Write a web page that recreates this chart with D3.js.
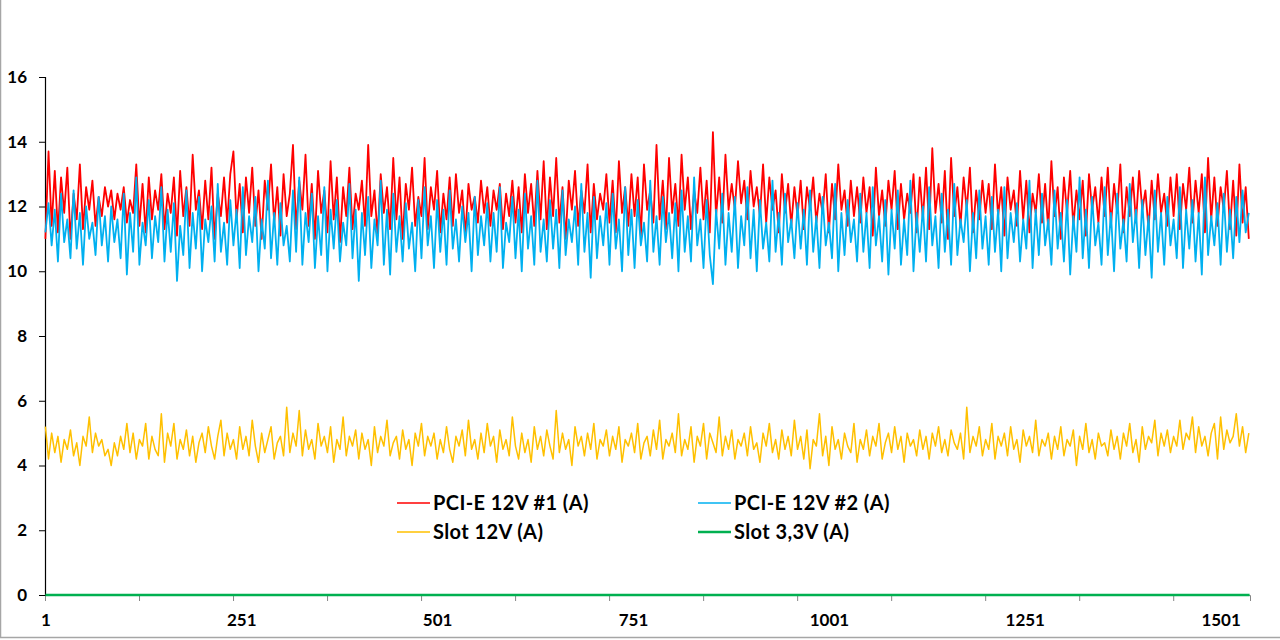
<!DOCTYPE html>
<html>
<head>
<meta charset="utf-8">
<script src="https://cdn.jsdelivr.net/npm/d3@7"></script>
<style>
  body { margin: 0; background: #fff; }
  text { font-family: Lato, "Open Sans", sans-serif; font-weight: bold; fill: #000; }
</style>
</head>
<body>
<div id="chart"></div>
<script>
const nPoints = 1538;
const sampleStep = 4;

const pcie1 = [
  11.0, 13.7, 11.4, 13.1, 11.2, 12.9, 11.8, 13.2, 11.0, 12.4, 11.6, 13.3, 11.3, 12.6, 11.9, 12.8, 11.4, 12.3, 11.7, 12.6,
  12.0, 12.5, 11.6, 12.4, 11.9, 12.6, 11.5, 12.2, 11.8, 13.3, 11.4, 12.7, 11.2, 12.9, 11.6, 12.5, 11.9, 13.0, 11.3, 12.4,
  11.8, 12.9, 11.1, 13.1, 11.7, 12.6, 11.4, 13.6, 11.9, 12.5, 11.3, 12.8, 11.6, 13.2, 11.0, 12.4, 11.7, 12.9, 11.5, 13.0,
  13.7, 11.6, 12.7, 11.2, 12.9, 11.8, 13.2, 11.4, 12.5, 11.0, 12.8, 11.9, 13.3, 11.5, 12.6, 11.1, 13.0, 11.7, 12.4, 13.9,
  11.3, 12.8, 11.9, 13.6, 11.4, 12.7, 11.0, 13.1, 11.8, 12.5, 11.2, 13.4, 11.6, 12.9, 10.9, 12.6, 11.7, 13.2, 11.3, 12.4,
  11.9, 12.8, 11.4, 13.9, 11.7, 12.5, 11.1, 13.0, 11.8, 12.6, 11.3, 13.5, 11.6, 12.9, 11.0, 12.7, 11.9, 13.2, 11.4, 12.3,
  11.7, 13.5, 11.3, 12.6, 11.9, 13.1, 11.2, 12.4, 11.6, 12.9, 11.4, 13.0, 11.8, 12.5, 11.1, 12.7, 11.9, 12.3, 11.5, 12.8,
  11.8, 12.6, 11.4, 12.5, 11.9, 12.7, 11.3, 12.4, 11.7, 12.8, 11.5, 12.6, 11.2, 13.0, 11.8, 12.7, 11.4, 13.1, 11.6, 13.4,
  11.3, 12.9, 11.7, 13.5, 11.5, 12.6, 11.0, 12.8, 11.9, 13.1, 11.4, 12.5, 11.8, 13.3, 11.2, 12.7, 11.6, 12.4, 11.9, 13.0,
  11.5, 12.8, 11.2, 13.4, 11.8, 12.6, 11.4, 13.0, 11.7, 12.9, 11.1, 13.3, 11.9, 12.5, 11.5, 13.9, 11.6, 12.8, 11.3, 13.5,
  11.8, 12.7, 11.4, 13.6, 11.9, 12.9, 11.3, 12.5, 11.8, 13.2, 11.6, 12.8, 11.2, 14.3, 11.7, 12.9, 11.5, 13.6, 11.9, 12.7,
  11.9, 13.4, 12.1, 12.8, 11.6, 13.1, 12.0, 12.6, 11.7, 13.3, 11.5, 12.9, 11.9, 12.5, 11.2, 13.0, 11.8, 12.7, 11.4, 12.6,
  11.7, 12.8, 11.3, 12.6, 11.9, 12.9, 11.5, 12.4, 11.8, 13.0, 11.2, 12.7, 11.6, 13.3, 11.9, 12.5, 11.4, 12.8, 11.7, 12.6,
  11.5, 12.9, 11.8, 12.6, 11.1, 13.2, 11.7, 12.5, 11.4, 12.8, 11.9, 13.1, 11.3, 12.7, 11.6, 12.4, 11.8, 13.0, 11.2, 12.9,
  11.6, 13.2, 11.3, 13.8, 11.8, 12.7, 11.5, 13.1, 11.0, 13.5, 11.7, 12.6, 11.4, 12.9, 11.9, 13.2, 11.2, 12.5, 11.6, 12.8,
  11.8, 12.7, 11.3, 13.3, 11.7, 12.6, 11.1, 12.9, 11.9, 12.5, 11.4, 13.1, 11.6, 12.8, 11.2, 12.4, 11.8, 13.0, 11.5, 12.7,
  11.3, 13.4, 11.7, 12.6, 11.0, 12.9, 11.8, 13.1, 11.4, 12.5, 11.6, 12.8, 11.1, 13.0, 11.9, 12.6, 11.5, 12.9, 11.7, 13.2,
  11.4, 12.7, 11.8, 13.3, 11.2, 12.6, 11.7, 12.9, 11.5, 13.1, 11.9, 12.5, 11.3, 12.8, 11.6, 13.0, 11.8, 12.4, 11.4, 12.9,
  11.7, 13.0, 11.3, 12.7, 11.9, 13.2, 11.5, 12.8, 11.8, 13.0, 11.2, 13.5, 11.6, 12.9, 11.4, 12.6, 11.9, 13.1, 11.3, 12.8,
  11.1, 13.3, 11.5, 12.6, 11.0
];

const pcie2 = [
  11.2, 12.1, 10.8, 11.9, 10.3, 12.4, 10.9, 11.6, 10.4, 12.5, 10.7, 11.8, 10.2, 12.0, 11.0, 11.5, 10.5, 12.3, 10.8, 11.7,
  10.3, 12.0, 10.9, 11.6, 10.4, 12.4, 9.9, 11.8, 10.6, 12.9, 10.2, 11.5, 10.8, 12.2, 10.4, 11.7, 10.9, 12.6, 10.3, 11.9,
  10.6, 12.1, 9.7, 11.4, 10.5, 12.5, 10.1, 11.8, 10.7, 12.3, 10.0, 11.6, 10.9, 12.0, 10.3, 12.7, 10.6, 11.5, 10.2, 12.2,
  10.8, 11.9, 10.1, 12.6, 10.5, 11.7, 10.9, 12.3, 10.0, 11.6, 10.7, 12.8, 10.4, 11.8, 10.2, 12.1, 10.8, 11.4, 10.3, 12.5,
  10.6, 12.9, 10.2, 11.8, 10.9, 12.4, 10.1, 11.7, 10.5, 12.6, 10.0, 11.9, 10.7, 12.2, 10.3, 11.5, 10.8, 12.7, 10.4, 11.9,
  9.7, 11.8, 10.5, 12.3, 10.1, 11.6, 10.8, 12.8, 10.2, 11.9, 9.9, 12.4, 10.6, 11.7, 10.3, 12.1, 10.7, 11.5, 10.0, 12.2,
  10.4, 12.6, 10.8, 11.7, 10.1, 12.2, 10.6, 11.9, 10.2, 12.5, 10.7, 11.6, 10.3, 12.0, 10.9, 11.8, 10.0, 12.3, 10.5, 11.7,
  10.8, 12.1, 10.3, 11.8, 10.6, 12.6, 10.1, 11.5, 10.9, 12.3, 10.4, 11.9, 10.0, 12.4, 10.7, 11.7, 10.2, 12.8, 10.6, 11.6,
  10.3, 12.2, 10.7, 11.9, 10.1, 12.5, 10.5, 11.6, 10.9, 12.0, 10.2, 12.7, 10.6, 11.8, 9.8, 12.3, 10.4, 11.7, 10.8, 12.1,
  10.2, 12.4, 10.7, 11.6, 10.0, 12.6, 10.5, 11.9, 10.1, 12.2, 10.8, 11.5, 10.3, 12.8, 10.6, 11.7, 10.2, 12.3, 10.9, 11.8,
  10.4, 12.1, 10.0, 12.5, 10.6, 11.7, 10.3, 12.9, 10.8, 11.6, 10.1, 12.2, 10.5, 9.6, 11.9, 10.7, 12.4, 10.2, 11.8, 10.6,
  12.3, 10.1, 11.7, 10.8, 12.6, 10.4, 11.9, 10.0, 12.2, 10.7, 11.5, 10.3, 12.8, 10.6, 11.8, 10.2, 12.4, 10.9, 11.6, 10.4,
  12.1, 10.7, 11.9, 10.2, 12.5, 10.6, 11.7, 10.1, 12.3, 10.8, 11.5, 10.4, 12.7, 10.0, 11.8, 10.5, 12.2, 10.9, 11.6, 10.3,
  12.4, 10.6, 11.8, 10.1, 12.6, 10.8, 11.7, 10.3, 12.2, 9.9, 11.9, 10.7, 12.5, 10.2, 11.6, 10.5, 12.8, 10.0, 11.8, 10.6,
  12.0, 10.3, 12.6, 10.8, 11.7, 10.1, 12.4, 10.6, 11.9, 10.2, 12.7, 10.5, 11.6, 10.9, 12.2, 10.0, 11.8, 10.4, 12.5, 10.7,
  11.7, 10.2, 12.3, 10.6, 11.9, 10.0, 12.6, 10.4, 11.8, 10.9, 12.1, 10.3, 11.6, 10.7, 12.8, 10.1, 11.9, 10.5, 12.4, 10.8,
  11.6, 10.2, 12.5, 10.7, 11.8, 10.3, 12.2, 9.9, 11.7, 10.6, 12.9, 10.4, 11.9, 10.1, 12.3, 10.8, 11.5, 10.2, 12.6, 10.5,
  11.8, 10.0, 12.4, 10.7, 11.6, 10.3, 12.7, 10.9, 11.9, 10.1, 12.2, 10.5, 11.7, 9.8, 12.5, 10.6, 11.8, 10.2, 12.3, 10.8,
  11.6, 10.4, 12.6, 10.1, 11.9, 10.7, 12.2, 10.3, 11.8, 9.9, 12.9, 10.5, 11.7, 10.8, 12.1, 10.2, 12.4, 10.6, 11.9, 10.4,
  12.3, 10.9, 12.5, 11.2, 11.8
];

const slot12 = [
  5.2, 4.2, 5.0, 4.4, 4.9, 4.1, 4.8, 4.5, 5.1, 4.3, 4.7, 4.0, 4.9, 4.6, 5.5, 4.4, 5.0, 4.6, 4.8, 4.3,
  4.5, 4.0, 4.7, 4.3, 4.9, 4.5, 5.3, 4.4, 5.0, 4.2, 4.8, 4.6, 5.3, 4.2, 4.9, 4.5, 4.3, 5.6, 4.1, 5.0,
  4.6, 5.3, 4.2, 4.8, 4.5, 5.1, 4.3, 4.9, 4.1, 4.7, 5.0, 4.4, 5.2, 4.6, 4.2, 4.9, 5.4, 4.3, 5.0, 4.5,
  4.8, 4.2, 5.2, 4.5, 4.9, 4.3, 5.4, 4.6, 4.1, 5.0, 4.4, 4.8, 5.2, 4.2, 4.7, 4.9, 4.3, 5.8, 4.4, 5.0,
  4.6, 5.7, 4.3, 5.1, 4.5, 4.8, 4.2, 5.3, 4.6, 4.9, 4.4, 5.2, 4.1, 4.8, 4.5, 5.5, 4.3, 4.9, 4.6, 5.1,
  4.2, 5.0, 4.5, 4.8, 4.0, 5.2, 4.4, 4.9, 4.6, 5.4, 4.3, 4.7, 4.9, 4.2, 5.1, 4.5, 4.8, 4.0, 5.0, 4.6,
  5.3, 4.3, 4.9, 4.6, 5.0, 4.2, 4.8, 4.4, 5.2, 4.5, 4.1, 4.9, 4.6, 5.1, 4.3, 5.4, 4.5, 4.8, 4.2, 5.0,
  4.4, 5.3, 4.6, 4.9, 4.1, 5.1, 4.5, 4.8, 4.3, 5.5, 4.6, 4.2, 5.0, 4.4, 4.8, 4.1, 5.2, 4.5, 4.9, 4.3,
  5.1, 4.6, 4.2, 5.7, 4.4, 5.0, 4.5, 4.8, 4.0, 5.2, 4.6, 4.9, 4.3, 5.0, 4.5, 5.3, 4.2, 4.8, 4.6, 5.1,
  4.3, 4.9, 4.5, 5.2, 4.1, 4.8, 4.6, 5.0, 4.4, 5.3, 4.2, 4.7, 4.9, 4.3, 5.1, 4.5, 5.4, 4.2, 4.8, 4.6,
  5.0, 4.4, 5.6, 4.3, 4.8, 4.5, 5.2, 4.1, 4.9, 4.6, 5.3, 4.2, 5.0, 4.7, 4.4, 5.5, 4.3, 4.9, 4.5, 5.1,
  4.2, 4.8, 4.6, 5.0, 4.3, 5.2, 4.5, 4.7, 4.1, 5.0, 4.6, 5.3, 4.4, 4.8, 4.2, 5.1, 4.5, 4.9, 4.3, 5.4,
  4.5, 4.9, 4.2, 5.1, 3.9, 4.8, 4.6, 5.6, 4.3, 4.9, 4.0, 5.2, 4.5, 4.8, 4.2, 5.0, 4.6, 4.4, 5.3, 4.1,
  4.8, 4.5, 5.1, 4.3, 4.9, 4.6, 5.3, 4.2, 4.7, 5.0, 4.4, 5.2, 4.5, 4.9, 4.1, 5.0, 4.6, 4.8, 4.3, 5.1,
  4.5, 4.9, 4.2, 5.0, 4.6, 5.2, 4.4, 4.8, 4.3, 5.1, 4.7, 4.5, 5.0, 4.2, 5.8, 4.4, 4.9, 4.6, 5.2, 4.3,
  4.8, 4.5, 5.3, 4.2, 4.9, 4.6, 5.0, 4.3, 5.2, 4.5, 4.8, 4.1, 5.1, 4.6, 4.9, 4.4, 5.4, 4.3, 4.8, 4.6,
  5.0, 4.2, 4.9, 4.5, 5.2, 4.3, 4.8, 4.6, 5.1, 4.0, 4.9, 4.5, 5.3, 4.4, 4.8, 4.2, 5.0, 4.6, 4.7, 4.3,
  5.1, 4.5, 4.9, 4.2, 5.0, 4.6, 5.3, 4.4, 4.8, 4.1, 5.2, 4.5, 4.9, 4.7, 5.4, 4.3, 5.0, 4.6, 5.1, 4.4,
  4.9, 4.6, 5.4, 4.5, 5.0, 4.8, 5.5, 4.4, 5.2, 4.6, 4.9, 4.3, 5.0, 5.3, 4.2, 5.5, 4.5, 5.1, 4.7, 4.9,
  5.6, 4.6, 5.2, 4.4, 5.0
];

// Slot 3,3V stays flat at zero the whole run
const slot33Idx = [1, 251, 501, 751, 1001, 1251, 1501, 1538];
const slot33 = [0, 0, 0, 0, 0, 0, 0, 0];

const yTicks = [0, 2, 4, 6, 8, 10, 12, 14, 16];
const xLabels = [1, 251, 501, 751, 1001, 1251, 1501];
const xTickEvery = 120;

const seriesNames = ["PCI-E 12V #1 (A)", "PCI-E 12V #2 (A)", "Slot 12V (A)", "Slot 3,3V (A)"];
const seriesColors = ["#ff0000", "#00b0f0", "#ffc000", "#00b050"];

const margin = {top: 77, right: 30, bottom: 45, left: 45},
    width = 1280 - margin.left - margin.right,
    height = 640 - margin.top - margin.bottom;

const root = d3
    .select("#chart")
    .append("svg")
    .attr("width", 1280)
    .attr("height", 640);

// chart area border (only left and bottom edges fall inside the picture)
root.append("rect")
    .attr("x", 0.5)
    .attr("y", -5)
    .attr("width", 1290)
    .attr("height", 642.5)
    .attr("fill", "none")
    .attr("stroke", "#a6a6a6")
    .attr("stroke-width", 1.5);

const svg = root.append("g")
    .attr("transform", `translate(${margin.left},${margin.top})`);

const xScale = d3.scaleLinear()
    .domain([0.5, nPoints + 0.5])
    .range([0, width]);

const yScale = d3.scaleLinear()
    .domain([0, 16])
    .range([height, 0]);

// x axis: tick marks between categories every 120 samples
const xTickVals = d3.range(0.5, nPoints, xTickEvery);
const xAxisG = svg.append("g")
    .attr("transform", `translate(0,${height})`)
    .call(d3.axisBottom(xScale).tickValues(xTickVals).tickSize(6).tickFormat(""));
xAxisG.select(".domain").attr("stroke", "#868686");
xAxisG.selectAll(".tick line").attr("stroke", "#868686");

const xLabG = svg.append("g")
    .attr("transform", `translate(0,${height})`)
    .call(d3.axisBottom(xScale).tickValues(xLabels).tickSize(0).tickPadding(19).tickFormat(d3.format("d")));
xLabG.select(".domain").remove();
xLabG.selectAll("text")
    .style("font-size", "17px")
    .style("font-family", "Lato, sans-serif")
    .style("font-weight", "bold");

const yAxisG = svg.append("g")
    .call(d3.axisLeft(yScale).tickValues(yTicks).tickSize(6).tickPadding(12).tickFormat(d3.format("d")));
yAxisG.select(".domain").attr("stroke", "#000").attr("stroke-width", 1.2);
yAxisG.selectAll(".tick line").attr("stroke", "#000");
yAxisG.selectAll("text")
    .style("font-size", "17px")
    .style("font-family", "Lato, sans-serif")
    .style("font-weight", "bold");

const line = d3.line()
    .x((d) => xScale(d.i))
    .y((d) => yScale(d.v));

const sampled = (vals) => vals.map((v, k) => ({i: 1 + k * sampleStep, v: v}));

const series = [
    {pts: sampled(pcie1), color: seriesColors[0], w: 1.8},
    {pts: sampled(pcie2), color: seriesColors[1], w: 1.8},
    {pts: sampled(slot12), color: seriesColors[2], w: 1.5},
    {pts: slot33.map((v, k) => ({i: slot33Idx[k], v: v})), color: seriesColors[3], w: 2.5}
];

svg.append("g")
    .selectAll("path")
    .data(series)
    .join("path")
    .attr("fill", "none")
    .attr("stroke", (d) => d.color)
    .attr("stroke-width", (d) => d.w)
    .attr("stroke-linejoin", "round")
    .attr("d", (d) => line(d.pts));

// legend, two columns
const legendPos = [
    {x: 397, y: 503}, {x: 698, y: 503},
    {x: 397, y: 532}, {x: 698, y: 532}
];
const legend = root.append("g")
    .selectAll("g")
    .data(seriesNames)
    .join("g")
    .attr("transform", (d, i) => `translate(${legendPos[i].x},${legendPos[i].y})`);

legend.append("line")
    .attr("x1", 0)
    .attr("x2", 33)
    .attr("stroke", (d, i) => seriesColors[i])
    .attr("stroke-width", (d, i) => (i === 3 ? 2.5 : 1.5));

legend.append("text")
    .attr("x", 36)
    .attr("dy", "0.35em")
    .style("font-size", "20px")
    .style("letter-spacing", "0.4px")
    .text((d) => d);
</script>
</body>
</html>
